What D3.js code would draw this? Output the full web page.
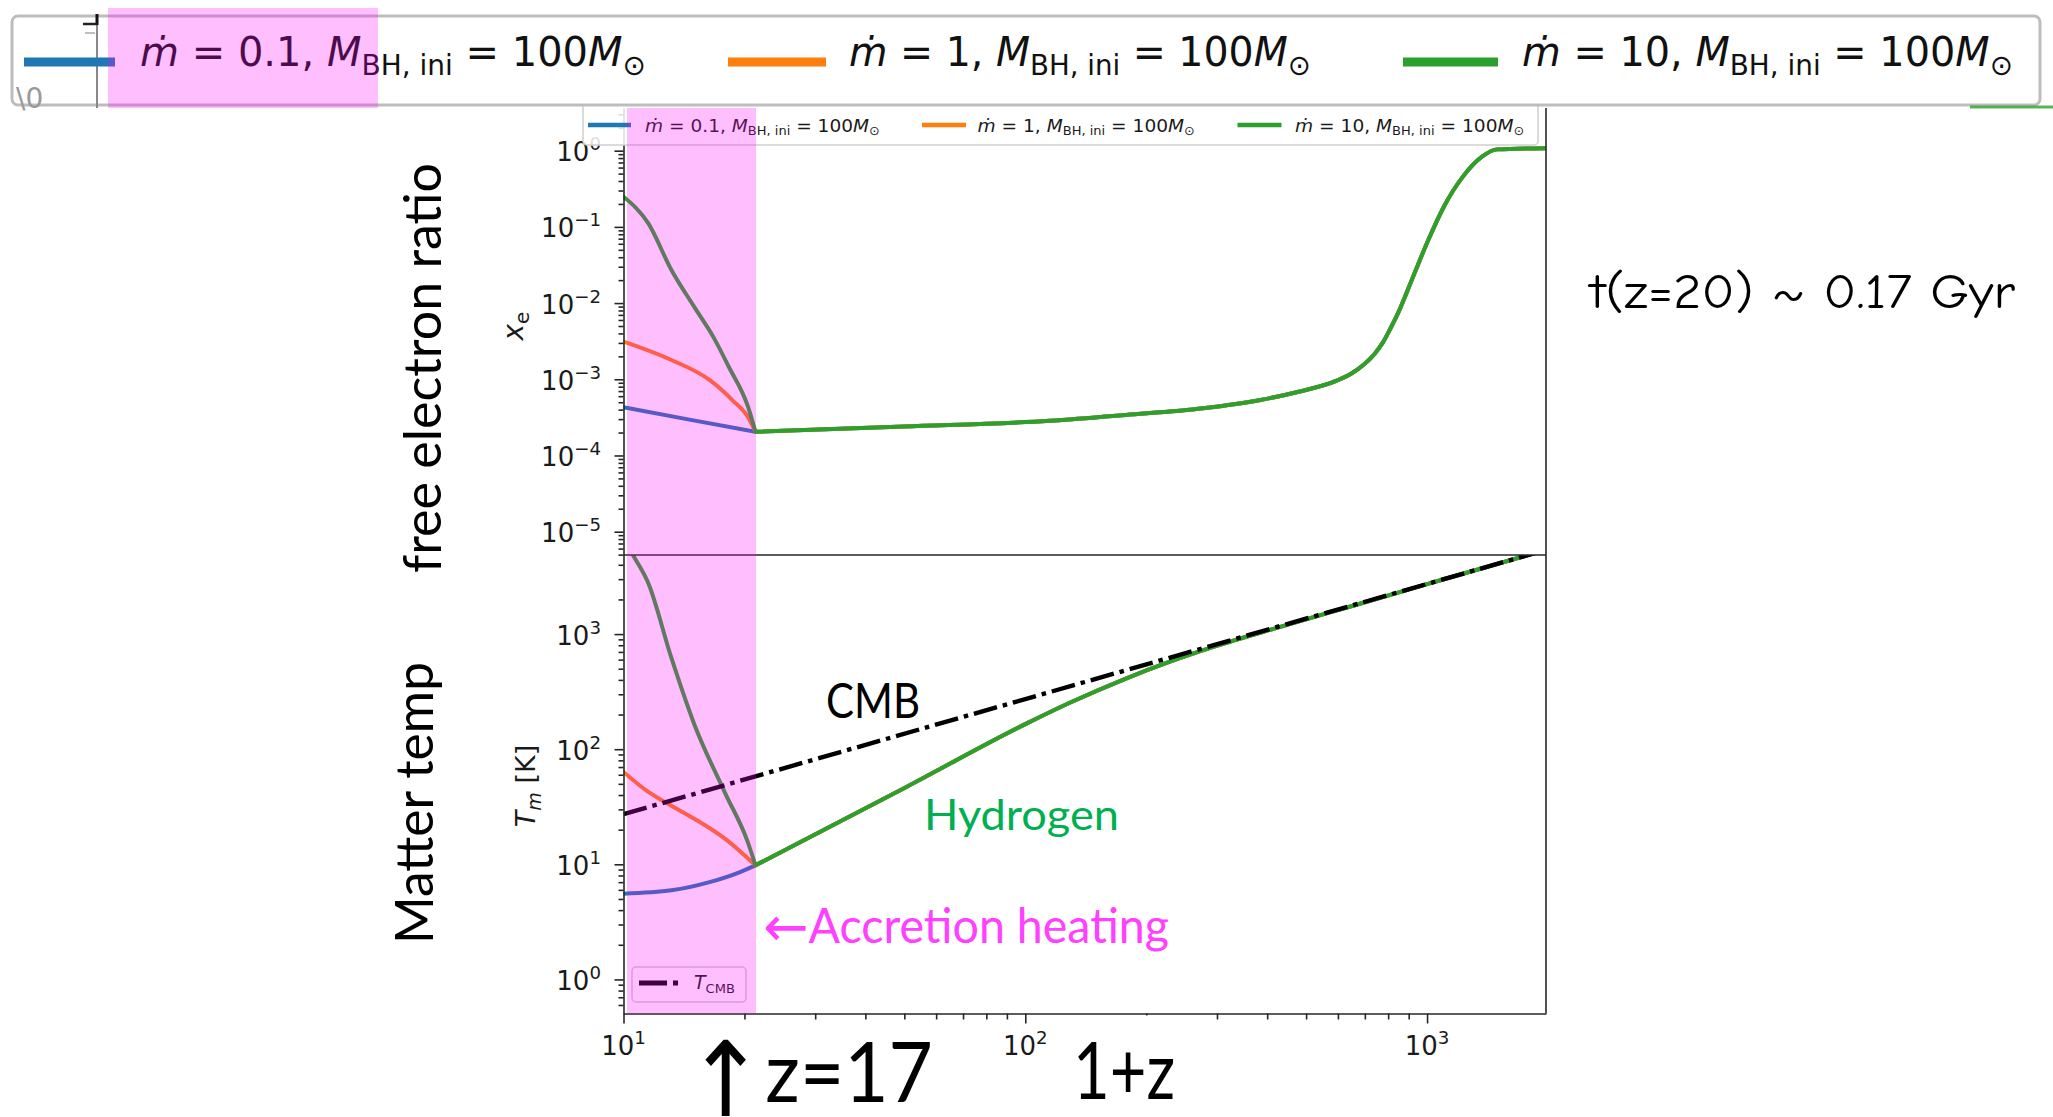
<!DOCTYPE html>
<html>
<head>
<meta charset="utf-8">
<script src="https://cdn.jsdelivr.net/npm/d3@7"></script>
<style>
  body { margin: 0; background: #fff; overflow: hidden; }
  svg { display: block; }
</style>
</head>
<body>
<svg id="chart" width="2053" height="1117"></svg>
<script>
/************** Data **************/
const mdotLabels = ["0.1", "1", "10"];
const seriesColors = ["#1f77b4", "#ff7f0e", "#2ca02c"];

// free electron ratio x_e during accretion (1+z from 10 up to 21.3)
const xeZpEarly = [
  [10, 14.7, 21.3],
  [10, 13.16, 16.37, 18.68, 20.4, 21.3],
  [10, 11.53, 13.16, 15.0, 16.73, 18.28, 20.4, 21.3]
];
const xeEarly = [
  [4.3e-4, 2.93e-4, 2.05e-4],
  [3.12e-3, 1.79e-3, 9.8e-4, 5.3e-4, 3.2e-4, 2.05e-4],
  [0.249, 0.111, 0.0272, 0.0089, 0.0036, 0.00146, 4.4e-4, 2.05e-4]
];
// before z = 20 the three runs are identical
const xeZpLate = [21.3, 50, 115, 178, 277, 385, 479, 596, 650, 695, 740, 775, 810, 845, 923, 1007, 1101, 1228, 1370, 1496, 1977];
const xeLate = [2.05e-4, 2.4e-4, 2.85e-4, 3.4e-4, 4.16e-4, 5.35e-4, 6.87e-4, 9.6e-4, 1.2e-3, 1.55e-3, 2.15e-3,
                3.0e-3, 4.6e-3, 7.2e-3, 0.0222, 0.0673, 0.184, 0.456, 0.834, 1.04, 1.08];

// matter temperature T_m [K]
const tZpEarly = [
  [10, 13.16, 16.37, 19.5, 21.3],
  [10, 11.53, 12.87, 15.0, 17.88, 21.3],
  [10, 10.56, 11.53, 13.16, 15.0, 17.88, 20.4, 21.3]
];
const tEarly = [
  [5.56, 5.94, 7.0, 8.57, 9.8],
  [63.5, 42.5, 33.7, 24.9, 16.7, 9.8],
  [6900, 4860, 2760, 620, 165, 42, 15.5, 9.8]
];
const tZpLate = [21.3, 50.6, 100, 129, 178, 230, 295, 429, 664, 1030, 1820, 1977];
const tLate = [9.8, 47, 165, 253, 411, 578, 777, 1150, 1790, 2800, 4960, 5380];

// CMB temperature
const cmbZp = [10, 1977];
const cmbT = [27.25, 5387];

// tick labels
const xMajor = [10, 100, 1000];
const xeMajorExp = [0, -1, -2, -3, -4, -5];
const tMajorExp = [0, 1, 2, 3];

/************** Layout / scales **************/
const svg = d3.select("#chart");
const left = 623.5, right = 1546;
const upTop = 108, mid = 555, bottom = 1013.5;

const x = d3.scaleLog().domain([10, 1977]).range([left, right]);
const yXe = d3.scaleLog().domain([Math.pow(10, -5.306), Math.pow(10, 0.56)]).range([mid, upTop]);
const yT = d3.scaleLog().domain([Math.pow(10, -0.296), Math.pow(10, 3.687)]).range([bottom, mid]);

const minorTicks = (lo, hi, scale) => {
  const out = [];
  const [d0, d1] = scale.domain();
  for (let e = lo; e <= hi; e++) {
    for (let k = 2; k <= 9; k++) {
      const v = k * Math.pow(10, e);
      if (v > d0 && v < d1) out.push(v);
    }
  }
  return out;
};

/************** Clip paths **************/
const defs = svg.append("defs");
defs.append("clipPath").attr("id", "clipUp")
  .append("rect").attr("x", left).attr("y", upTop).attr("width", right - left).attr("height", mid - upTop);
defs.append("clipPath").attr("id", "clipLow")
  .append("rect").attr("x", left).attr("y", mid).attr("width", right - left).attr("height", bottom - mid);

/************** Curves **************/
const gUp = svg.append("g").attr("clip-path", "url(#clipUp)");
const gLow = svg.append("g").attr("clip-path", "url(#clipLow)");

const drawLine = (g, xs, ys, yScale, color) => {
  const pts = xs.map((v, i) => [v, ys[i]]);
  g.append("path")
    .datum(pts)
    .attr("fill", "none")
    .attr("stroke", color)
    .attr("stroke-width", 4)
    .attr("stroke-linejoin", "round")
    .attr("stroke-linecap", "round")
    .attr("d", d3.line().x(d => x(d[0])).y(d => yScale(d[1])).curve(d3.curveMonotoneX));
};

mdotLabels.forEach((m, i) => {
  drawLine(gUp, xeZpEarly[i], xeEarly[i], yXe, seriesColors[i]);
  drawLine(gUp, xeZpLate, xeLate, yXe, seriesColors[i]);
  drawLine(gLow, tZpEarly[i], tEarly[i], yT, seriesColors[i]);
  drawLine(gLow, tZpLate, tLate, yT, seriesColors[i]);
});

// CMB, dash-dot
gLow.append("path")
  .datum(cmbZp.map((v, i) => [v, cmbT[i]]))
  .attr("fill", "none").attr("stroke", "#000").attr("stroke-width", 4.4)
  .attr("stroke-dasharray", "24,6,4.5,6")
  .attr("d", d3.line().x(d => x(d[0])).y(d => yT(d[1])));

/************** Axes **************/
const axisColor = "#262626";
const styleAxis = g => {
  g.attr("color", axisColor);
  g.selectAll("path, line").attr("stroke-width", 1.6);
  g.selectAll("text").remove();
};

// upper y
svg.append("g").attr("transform", `translate(${left},0)`)
  .call(d3.axisLeft(yXe).tickValues(xeMajorExp.map(e => Math.pow(10, e))).tickSize(9).tickSizeOuter(0))
  .call(styleAxis);
svg.append("g").attr("transform", `translate(${left},0)`)
  .call(d3.axisLeft(yXe).tickValues(minorTicks(-6, 0, yXe)).tickSize(5).tickSizeOuter(0))
  .call(styleAxis).select(".domain").remove();

// lower y
svg.append("g").attr("transform", `translate(${left},0)`)
  .call(d3.axisLeft(yT).tickValues(tMajorExp.map(e => Math.pow(10, e))).tickSize(9).tickSizeOuter(0))
  .call(styleAxis);
svg.append("g").attr("transform", `translate(${left},0)`)
  .call(d3.axisLeft(yT).tickValues(minorTicks(-1, 3, yT)).tickSize(5).tickSizeOuter(0))
  .call(styleAxis).select(".domain").remove();

// x
svg.append("g").attr("transform", `translate(0,${bottom})`)
  .call(d3.axisBottom(x).tickValues(xMajor).tickSize(10).tickSizeOuter(0))
  .call(styleAxis);
svg.append("g").attr("transform", `translate(0,${bottom})`)
  .call(d3.axisBottom(x).tickValues(minorTicks(1, 3, x)).tickSize(6).tickSizeOuter(0))
  .call(styleAxis).select(".domain").remove();

// right spine + panel separator
svg.append("line").attr("x1", right).attr("x2", right).attr("y1", upTop).attr("y2", bottom)
  .attr("stroke", axisColor).attr("stroke-width", 1.6);
svg.append("line").attr("x1", left).attr("x2", right).attr("y1", mid).attr("y2", mid)
  .attr("stroke", axisColor).attr("stroke-width", 1.6);

/************** Tick labels (10^n) **************/
const powLabel = (px, py, exp, anchor) => {
  const fs = 26;
  const t = svg.append("text")
    .attr("x", px).attr("y", py)
    .attr("text-anchor", anchor)
    .attr("font-family", "DejaVu Sans, sans-serif")
    .attr("font-size", fs).attr("fill", "#1a1a1a");
  t.append("tspan").text("10");
  t.append("tspan").attr("dy", -11).attr("font-size", fs * 0.7)
    .text(exp < 0 ? "\u2212" + Math.abs(exp) : String(exp));
};
xeMajorExp.forEach(e => powLabel(601, yXe(Math.pow(10, e)) + 10.5, e, "end"));
tMajorExp.forEach(e => powLabel(601, yT(Math.pow(10, e)) + 10.5, e, "end"));
xMajor.forEach(v => powLabel(x(v), 1055, Math.round(Math.log10(v)), "middle"));

// axis titles
const xeTitle = svg.append("text")
  .attr("transform", "translate(523,326) rotate(-90)")
  .attr("text-anchor", "middle")
  .attr("font-family", "DejaVu Sans, sans-serif").attr("font-size", 28).attr("fill", "#1a1a1a");
xeTitle.append("tspan").attr("font-style", "italic").text("x");
xeTitle.append("tspan").attr("font-size", 20).attr("dy", 6).text("e");

const tTitle = svg.append("text")
  .attr("transform", "translate(535,786) rotate(-90)")
  .attr("text-anchor", "middle")
  .attr("font-family", "DejaVu Sans, sans-serif").attr("font-size", 27).attr("fill", "#1a1a1a");
tTitle.append("tspan").attr("font-style", "italic").text("T");
tTitle.append("tspan").attr("font-style", "italic").attr("font-size", 19).attr("dy", 6).text("m");
tTitle.append("tspan").attr("dy", -6).text(" [K]");

/************** Legends **************/
function mdotLabel(sel, mdot, fs) {
  const sub = 0.22 * fs;
  sel.append("tspan").attr("font-style", "italic").text("\u1E41");
  sel.append("tspan").text(` = ${mdot}, `);
  sel.append("tspan").attr("font-style", "italic").text("M");
  sel.append("tspan").attr("font-size", fs * 0.7).attr("dy", sub).text("BH, ini");
  sel.append("tspan").attr("dy", -sub).text(" = 100");
  sel.append("tspan").attr("font-style", "italic").text("M");
  sel.append("tspan").attr("font-size", fs * 0.7).attr("dy", sub).text("\u2299");
}

// small matplotlib legend at the top of the x_e panel
svg.append("rect").attr("x", 583).attr("y", 98).attr("width", 955).attr("height", 47).attr("rx", 4)
  .attr("fill", "#fff").attr("fill-opacity", 0.85).attr("stroke", "#d0d0d0").attr("stroke-width", 1.5);
const smallLine = [[588, 631], [922, 966], [1237.5, 1281.5]];
const smallText = [[645, 235], [977.5, 217.5], [1295, 229.5]];
mdotLabels.forEach((m, i) => {
  svg.append("line").attr("x1", smallLine[i][0]).attr("x2", smallLine[i][1]).attr("y1", 125).attr("y2", 125)
    .attr("stroke", seriesColors[i]).attr("stroke-width", 4.5);
  const t = svg.append("text").attr("x", smallText[i][0]).attr("y", 131.5)
    .attr("font-family", "DejaVu Sans, sans-serif").attr("font-size", 18).attr("fill", "#1a1a1a")
    .attr("textLength", smallText[i][1]).attr("lengthAdjust", "spacingAndGlyphs");
  mdotLabel(t, m, 18);
});

// T_CMB legend in the lower panel
svg.append("rect").attr("x", 632).attr("y", 967).attr("width", 114).attr("height", 35).attr("rx", 4)
  .attr("fill", "#fff").attr("fill-opacity", 0.8).attr("stroke", "#d0d0d0").attr("stroke-width", 1.5);
svg.append("line").attr("x1", 639).attr("x2", 678).attr("y1", 983).attr("y2", 983)
  .attr("stroke", "#000").attr("stroke-width", 5).attr("stroke-dasharray", "28,6,5,6");
const cmbLeg = svg.append("text").attr("x", 694).attr("y", 989)
  .attr("font-family", "DejaVu Sans, sans-serif").attr("font-size", 19).attr("fill", "#1a1a1a");
cmbLeg.append("tspan").attr("font-style", "italic").text("T");
cmbLeg.append("tspan").attr("font-size", 13).attr("dy", 4).text("CMB");

/************** Accretion band (pink overlay) **************/
svg.append("rect").attr("x", 627).attr("y", upTop).attr("width", 129).attr("height", bottom - upTop)
  .attr("fill", "#ff00ff").attr("fill-opacity", 0.25);

/************** Large legend strip on top **************/
svg.append("rect").attr("x", 12).attr("y", 16).attr("width", 2028).attr("height", 89).attr("rx", 6)
  .attr("fill", "#fff").attr("stroke", "#bdbdbd").attr("stroke-width", 3);
// bits of the cropped axis at the far left
svg.append("line").attr("x1", 97).attr("x2", 97).attr("y1", 14).attr("y2", 108)
  .attr("stroke", "#888").attr("stroke-width", 2);
svg.append("line").attr("x1", 97).attr("x2", 97).attr("y1", 14).attr("y2", 25)
  .attr("stroke", "#111").attr("stroke-width", 3);
svg.append("line").attr("x1", 83).attr("x2", 97).attr("y1", 24).attr("y2", 24)
  .attr("stroke", "#222").attr("stroke-width", 2.5);
svg.append("line").attr("x1", 85).attr("x2", 95).attr("y1", 33).attr("y2", 33)
  .attr("stroke", "#aaa").attr("stroke-width", 1.5);
svg.append("text").attr("x", 16).attr("y", 108)
  .attr("font-family", "DejaVu Sans, sans-serif").attr("font-size", 28).attr("fill", "#999").text("\\0");
svg.append("line").attr("x1", 1970).attr("x2", 2053).attr("y1", 107).attr("y2", 107)
  .attr("stroke", "#2ca02c").attr("stroke-width", 3).attr("stroke-opacity", 0.8);

const bigLine = [[24, 115], [728, 826], [1403, 1498]];
const bigText = [[140, 506], [849, 462], [1522, 491]];
mdotLabels.forEach((m, i) => {
  svg.append("line").attr("x1", bigLine[i][0]).attr("x2", bigLine[i][1]).attr("y1", 62).attr("y2", 62)
    .attr("stroke", seriesColors[i]).attr("stroke-width", 9);
  const t = svg.append("text").attr("x", bigText[i][0]).attr("y", 66)
    .attr("font-family", "DejaVu Sans, sans-serif").attr("font-size", 41).attr("fill", "#111")
    .attr("textLength", bigText[i][1]).attr("lengthAdjust", "spacingAndGlyphs");
  mdotLabel(t, m, 41);
});
svg.append("rect").attr("x", 108).attr("y", 8).attr("width", 270).attr("height", 100)
  .attr("fill", "#ff00ff").attr("fill-opacity", 0.25);

/************** Annotations **************/
const annot = (px, py, fs, len, color, rot) => {
  const t = svg.append("text")
    .attr("font-family", "Lato, 'Open Sans', sans-serif")
    .attr("font-size", fs).attr("fill", color)
    .attr("textLength", len).attr("lengthAdjust", "spacingAndGlyphs");
  if (rot) {
    t.attr("transform", `translate(${px},${py}) rotate(-90)`).attr("text-anchor", "middle");
  } else {
    t.attr("x", px).attr("y", py);
  }
  return t;
};

annot(441, 368, 53, 410, "#000", true).text("free electron ratio");
annot(433, 803, 53, 282, "#000", true).text("Matter temp");
annot(826, 718, 49, 94, "#000").text("CMB");
annot(924, 830, 42, 195, "#00b050").text("Hydrogen");

const acc = annot(763, 943, 48, 406, "#ff40ff");
acc.append("tspan").attr("font-family", "DejaVu Sans, sans-serif").attr("font-size", 56).attr("dy", 3).text("\u2190");
acc.append("tspan").attr("dy", -3).text("Accretion heating");

// hide the axis ticks behind the "1+z" label
svg.append("rect").attr("x", 1046).attr("y", 1015.5).attr("width", 152).attr("height", 102).attr("fill", "#fff");

const zl = annot(686, 1102, 84, 247, "#000");
zl.append("tspan").attr("font-family", "DejaVu Sans, sans-serif").attr("font-size", 104).attr("dy", 14).text("\u2191");
zl.append("tspan").attr("dy", -14).text("z=17");

annot(1073, 1099, 80, 102, "#000").text("1+z");

svg.append("text").attr("x", 1590).attr("y", 308)
  .attr("font-family", "'Comic Sans MS', 'Comic Neue', cursive, sans-serif")
  .attr("font-size", 48).attr("fill", "#000")
  .attr("textLength", 425).attr("lengthAdjust", "spacingAndGlyphs")
  .text("t(z=20) ~ 0.17 Gyr");
</script>
</body>
</html>
